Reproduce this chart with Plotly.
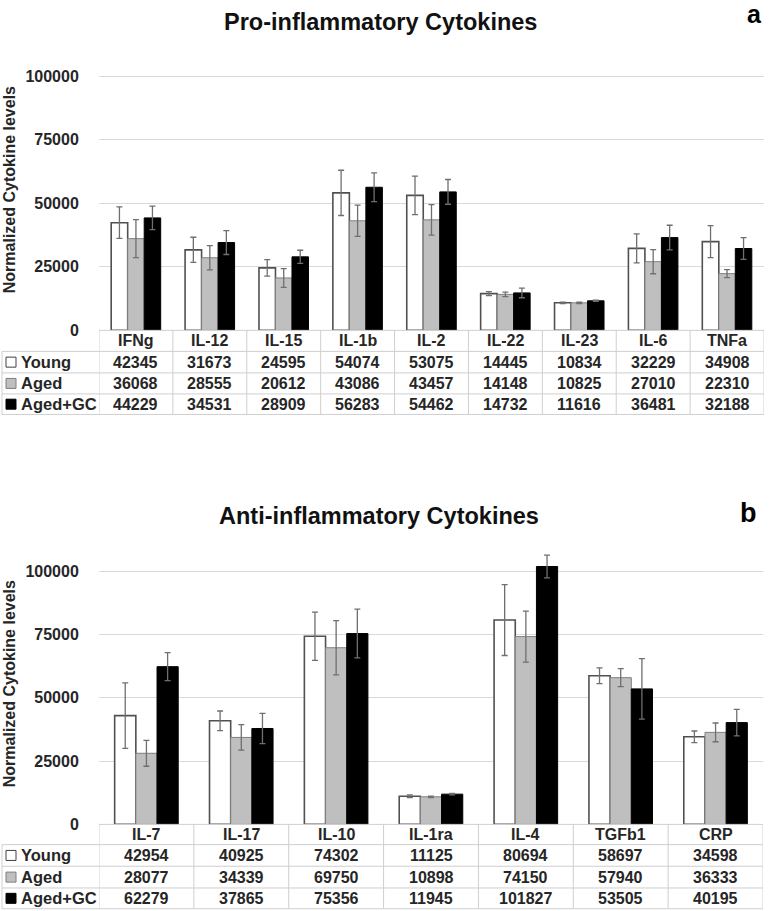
import plotly.graph_objects as go

W, H = 780, 911          # reference picture size (coordinates below are in these pixels)
FIG_H = 921              # figure height in the page (photo is fitted back to 911)

# ---------------- data ----------------
series_names = ["Young", "Aged", "Aged+GC"]
tick_vals = [0, 25000, 50000, 75000, 100000]

pro_categories = ["IFNg", "IL-12", "IL-15", "IL-1b", "IL-2", "IL-22", "IL-23", "IL-6", "TNFa"]
pro_young = [42345, 31673, 24595, 54074, 53075, 14445, 10834, 32229, 34908]
pro_aged = [36068, 28555, 20612, 43086, 43457, 14148, 10825, 27010, 22310]
pro_aged_gc = [44229, 34531, 28909, 56283, 54462, 14732, 11616, 36481, 32188]
pro_young_err = [6200, 4940, 3230, 8900, 7555, 800, 300, 5700, 6300]
pro_aged_err = [7500, 4800, 3680, 6130, 6020, 900, 250, 4750, 1575]
pro_aged_gc_err = [4600, 4700, 2590, 5660, 4860, 1900, 250, 4860, 4300]

anti_categories = ["IL-7", "IL-17", "IL-10", "IL-1ra", "IL-4", "TGFb1", "CRP"]
anti_young = [42954, 40925, 74302, 11125, 80694, 58697, 34598]
anti_aged = [28077, 34339, 69750, 10898, 74150, 57940, 36333]
anti_aged_gc = [62279, 37865, 75356, 11945, 101827, 53505, 40195]
anti_young_err = [12900, 3860, 9500, 500, 14000, 3080, 2280]
anti_aged_err = [5120, 5030, 10730, 300, 10040, 3560, 3700]
anti_aged_gc_err = [5550, 6000, 9620, 300, 4500, 11950, 5260]

# ---------------- styles ----------------
FONT = "Liberation Sans, Arial, sans-serif"
TXT = "#262626"
GRID = "#d9d9d9"
TBL = "#cfcfcf"
bar_fill = ["#ffffff", "#bfbfbf", "#000000"]
bar_line = ["#505050", "#7f7f7f", "#000000"]
bar_line_w = [1.6, 1.0, 1.0]
ERR = "#6f6f6f"


def px(x):
    return x / W


def py(y):
    return 1 - y / H


panels = [
    dict(cats=pro_categories,
         vals=[pro_young, pro_aged, pro_aged_gc],
         errs=[pro_young_err, pro_aged_err, pro_aged_gc_err],
         xa="x", ya="y", x0=99, x1=764, zero=330, scale=254,
         rows=[330, 351, 372.5, 393.5, 414],
         title="Pro-inflammatory Cytokines", title_xy=(380, 22.4),
         letter="a", letter_xy=(754, 13.5), letter_size=25, ytitle_y=189.5),
    dict(cats=anti_categories,
         vals=[anti_young, anti_aged, anti_aged_gc],
         errs=[anti_young_err, anti_aged_err, anti_aged_gc_err],
         xa="x2", ya="y2", x0=99, x1=763, zero=823.5, scale=253,
         rows=[823.5, 843.7, 865.3, 887, 907.7],
         title="Anti-inflammatory Cytokines", title_xy=(378.5, 515.4),
         letter="b", letter_xy=(748, 512.4), letter_size=27, ytitle_y=683),
]

fig = go.Figure()
shapes = []
annotations = []
YMAX = 110000

for p in panels:
    n = len(p["cats"])
    for s in range(3):
        fig.add_trace(go.Bar(
            x=p["cats"], y=p["vals"][s], name=series_names[s],
            xaxis=p["xa"], yaxis=p["ya"], showlegend=False,
            marker=dict(color=bar_fill[s], line=dict(color=bar_line[s], width=bar_line_w[s])),
            error_y=dict(type="data", array=p["errs"][s], visible=True,
                         color=ERR, thickness=1.3, width=3),
        ))
    top_px = p["zero"] - p["scale"] * YMAX / 100000
    axn = "" if p["xa"] == "x" else "2"
    fig.layout["xaxis" + axn] = dict(
        domain=[px(p["x0"]), px(p["x1"])], type="category",
        range=[-0.5, n - 0.5], showticklabels=False, showgrid=False,
        zeroline=False, showline=False, ticks="", anchor=p["ya"],
        fixedrange=True)
    fig.layout["yaxis" + axn] = dict(
        domain=[py(p["zero"]), py(top_px)], range=[0, YMAX],
        tickvals=tick_vals, ticktext=[str(v) for v in tick_vals],
        showgrid=True, gridcolor=GRID, gridwidth=1, zeroline=False,
        showline=False, ticks="outside", ticklen=16, tickcolor="rgba(0,0,0,0)",
        tickfont=dict(family=FONT, size=16, color=TXT, weight="bold"),
        anchor=p["xa"], fixedrange=True)

    rows = p["rows"]
    xr = p["xa"]
    # table: header top line (data columns only)
    shapes.append(dict(type="line", xref="paper", yref="paper",
                       x0=px(p["x0"]), x1=px(p["x1"]), y0=py(rows[0]), y1=py(rows[0]),
                       line=dict(color=TBL, width=1)))
    for r in rows[1:]:
        shapes.append(dict(type="line", xref="paper", yref="paper",
                           x0=px(2), x1=px(p["x1"]), y0=py(r), y1=py(r),
                           line=dict(color=TBL, width=1)))
    shapes.append(dict(type="line", xref="paper", yref="paper",
                       x0=px(2), x1=px(2), y0=py(rows[1]), y1=py(rows[-1]),
                       line=dict(color=TBL, width=1)))
    for k in range(n + 1):
        shapes.append(dict(type="line", xref=xr, yref="paper",
                           x0=k - 0.5, x1=k - 0.5, y0=py(rows[0]), y1=py(rows[-1]),
                           line=dict(color=TBL, width=1)))
    # header text
    hmid = (rows[0] + rows[1]) / 2
    for i, c in enumerate(p["cats"]):
        annotations.append(dict(x=c, xref=xr, y=py(hmid), yref="paper",
                                text=c, showarrow=False, xanchor="center", yanchor="middle",
                                font=dict(family=FONT, size=16, color=TXT, weight="bold")))
    # rows
    for s in range(3):
        mid = (rows[s + 1] + rows[s + 2]) / 2
        for i, c in enumerate(p["cats"]):
            annotations.append(dict(x=c, xref=xr, y=py(mid), yref="paper",
                                    text=str(p["vals"][s][i]), showarrow=False,
                                    xanchor="center", yanchor="middle",
                                    font=dict(family=FONT, size=16, color=TXT, weight="bold")))
        annotations.append(dict(x=px(19), xref="paper", y=py(mid), yref="paper",
                                text=series_names[s], showarrow=False,
                                xanchor="left", yanchor="middle",
                                font=dict(family=FONT, size=16.5, color=TXT, weight="bold")))
        shapes.append(dict(type="rect", xref="paper", yref="paper",
                           x0=px(6), x1=px(16), y0=py(mid + 5), y1=py(mid - 5),
                           fillcolor=bar_fill[s],
                           line=dict(color="#404040" if s == 0 else bar_line[s], width=1)))
    # titles
    annotations.append(dict(x=px(p["title_xy"][0]), y=py(p["title_xy"][1]),
                            xref="paper", yref="paper", text=p["title"], showarrow=False,
                            xanchor="center", yanchor="middle",
                            font=dict(family=FONT, size=23.5, color="#111111", weight="bold")))
    annotations.append(dict(x=px(p["letter_xy"][0]), y=py(p["letter_xy"][1]),
                            xref="paper", yref="paper", text=p["letter"], showarrow=False,
                            xanchor="center", yanchor="middle",
                            font=dict(family=FONT, size=p["letter_size"], color="#000000", weight="bold")))
    annotations.append(dict(x=px(9.5), y=py(p["ytitle_y"]), xref="paper", yref="paper",
                            text="Normalized Cytokine levels", showarrow=False, textangle=-90,
                            xanchor="center", yanchor="middle",
                            font=dict(family=FONT, size=16, color=TXT, weight="bold")))

fig.update_layout(
    width=W, height=FIG_H, margin=dict(l=0, r=0, t=0, b=0),
    paper_bgcolor="white", plot_bgcolor="white",
    barmode="group", bargap=0.33, bargroupgap=0,
    shapes=shapes, annotations=annotations,
)

fig.write_html("out.html", config={"displayModeBar": False},
               post_script="document.body.style.margin='0px';")
